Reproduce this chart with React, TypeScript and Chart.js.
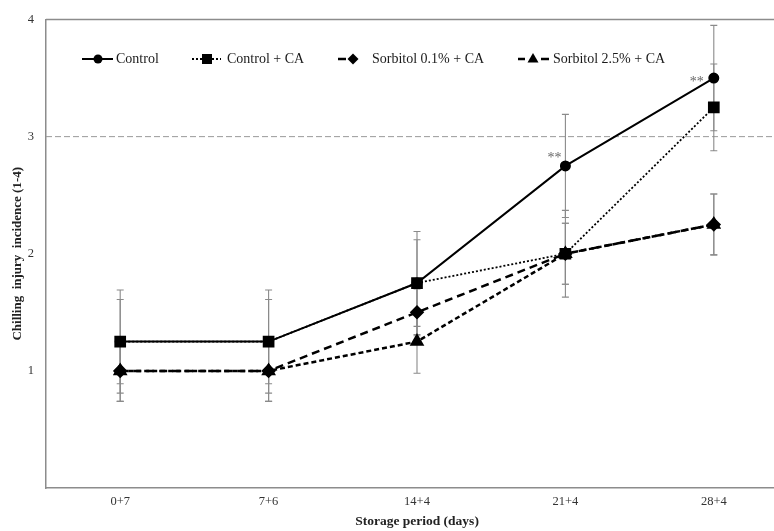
import React, { useEffect, useRef } from 'react';
import { Chart, registerables } from 'chart.js';

Chart.register(...registerables);

// ---- data ----
const categories = ['0+7', '7+6', '14+4', '21+4', '28+4'];
const seriesNames = ['Control', 'Control + CA', 'Sorbitol 0.1% + CA', 'Sorbitol 2.5% + CA'];
const control = [1.25, 1.25, 1.75, 2.75, 3.5];
const controlCA = [1.25, 1.25, 1.75, 2.0, 3.25];
const sorbitol01 = [1.0, 1.0, 1.5, 2.0, 2.25];
const sorbitol25 = [1.0, 1.0, 1.25, 2.0, 2.25];
const controlErr = [0.44, 0.44, 0.44, 0.44, 0.45];
const controlCAErr = [0.36, 0.36, 0.37, 0.37, 0.37];
const sorbitol01Err = [0.26, 0.26, 0.2, 0.26, 0.26];
const sorbitol25Err = [0.26, 0.26, 0.27, 0.26, 0.26];
const yTicks = [1, 2, 3, 4];
const thresholdValue = 3;
const significance = [
  { series: 0, index: 3, label: '**' },
  { series: 0, index: 4, label: '**' },
];

const FONT = '"Liberation Serif", "Times New Roman", serif';
const errors = [controlErr, controlCAErr, sorbitol01Err, sorbitol25Err];

// style for the legend (drawn manually to show line + marker)
const legendStyle = [
  { segs: [[82, 113]], dash: [] as number[], width: 2, marker: 'circle', mx: 98, tx: 116 },
  { segs: [[192, 221]], dash: [2, 2], width: 1.8, marker: 'rect', mx: 207, tx: 227 },
  { segs: [[338, 346]], dash: [] as number[], width: 2.5, marker: 'rectRot', mx: 353, tx: 372 },
  { segs: [[518, 525], [541, 549]], dash: [] as number[], width: 2.5, marker: 'triangle', mx: 533, tx: 553 },
];
const legendY = 59;
const sigOffsets = [
  { dx: -11, dy: -8 },
  { dx: -17, dy: 4 },
];

function drawMarker(ctx: CanvasRenderingContext2D, kind: string, x: number, y: number) {
  ctx.beginPath();
  if (kind === 'circle') {
    ctx.arc(x, y, 4.5, 0, Math.PI * 2);
  } else if (kind === 'rect') {
    ctx.rect(x - 5, y - 5, 10, 10);
  } else if (kind === 'rectRot') {
    ctx.moveTo(x, y - 5.5);
    ctx.lineTo(x + 5.5, y);
    ctx.lineTo(x, y + 5.5);
    ctx.lineTo(x - 5.5, y);
    ctx.closePath();
  } else {
    ctx.moveTo(x, y - 6);
    ctx.lineTo(x + 5.5, y + 3.5);
    ctx.lineTo(x - 5.5, y + 3.5);
    ctx.closePath();
  }
  ctx.fillStyle = '#000';
  ctx.fill();
}

const decorPlugin = {
  id: 'decor',
  beforeDatasetsDraw(chart: any) {
    const ctx: CanvasRenderingContext2D = chart.ctx;
    const { left, right, top } = chart.chartArea;
    const ys = chart.scales.y;
    ctx.save();
    // top frame line
    ctx.strokeStyle = '#8c8c8c';
    ctx.lineWidth = 1.5;
    ctx.beginPath();
    ctx.moveTo(left, top);
    ctx.lineTo(right, top);
    ctx.stroke();
    // threshold dashed line
    const ty = ys.getPixelForValue(thresholdValue);
    ctx.strokeStyle = '#9a9a9a';
    ctx.lineWidth = 1;
    ctx.setLineDash([6, 3]);
    ctx.beginPath();
    ctx.moveTo(left, ty);
    ctx.lineTo(right, ty);
    ctx.stroke();
    ctx.setLineDash([]);
    // error bars
    ctx.strokeStyle = '#8a8a8a';
    ctx.lineWidth = 1.1;
    chart.data.datasets.forEach((ds: any, i: number) => {
      const meta = chart.getDatasetMeta(i);
      ds.data.forEach((v: number, j: number) => {
        const e = errors[i][j];
        const x = meta.data[j].x;
        const y1 = ys.getPixelForValue(v + e);
        const y2 = ys.getPixelForValue(v - e);
        ctx.beginPath();
        ctx.moveTo(x, y1);
        ctx.lineTo(x, y2);
        ctx.moveTo(x - 3.5, y1);
        ctx.lineTo(x + 3.5, y1);
        ctx.moveTo(x - 3.5, y2);
        ctx.lineTo(x + 3.5, y2);
        ctx.stroke();
      });
    });
    ctx.restore();
  },
  afterDraw(chart: any) {
    const ctx: CanvasRenderingContext2D = chart.ctx;
    ctx.save();
    // significance marks
    ctx.fillStyle = '#666';
    ctx.font = `14px ${FONT}`;
    ctx.textAlign = 'center';
    ctx.textBaseline = 'middle';
    significance.forEach((s, k) => {
      const pt = chart.getDatasetMeta(s.series).data[s.index];
      ctx.fillText(s.label, pt.x + sigOffsets[k].dx, pt.y + sigOffsets[k].dy);
    });
    // legend
    ctx.strokeStyle = '#000';
    ctx.lineCap = 'butt';
    legendStyle.forEach((st, i) => {
      ctx.lineWidth = st.width;
      ctx.setLineDash(st.dash);
      st.segs.forEach(([a, b]) => {
        ctx.beginPath();
        ctx.moveTo(a, legendY);
        ctx.lineTo(b, legendY);
        ctx.stroke();
      });
      ctx.setLineDash([]);
      drawMarker(ctx, st.marker, st.mx, legendY);
      ctx.fillStyle = '#1a1a1a';
      ctx.font = `14px ${FONT}`;
      ctx.textAlign = 'left';
      ctx.textBaseline = 'middle';
      ctx.fillText(seriesNames[i], st.tx, legendY);
    });
    ctx.restore();
  },
};

export default function App() {
  const ref = useRef<HTMLCanvasElement>(null);
  useEffect(() => {
    const chart = new Chart(ref.current as HTMLCanvasElement, {
      type: 'line',
      data: {
        labels: categories,
        datasets: [
          {
            label: seriesNames[0],
            data: control,
            borderColor: '#000',
            backgroundColor: '#000',
            borderWidth: 2,
            pointStyle: 'circle',
            pointRadius: 4.5,
            order: 3,
          },
          {
            label: seriesNames[1],
            data: controlCA,
            borderColor: '#000',
            backgroundColor: '#000',
            borderWidth: 1.8,
            borderDash: [2, 2],
            pointStyle: 'rect',
            pointRadius: 7,
            order: 0,
          },
          {
            label: seriesNames[2],
            data: sorbitol01,
            borderColor: '#000',
            backgroundColor: '#000',
            borderWidth: 2.5,
            borderDash: [8, 5],
            pointStyle: 'rectRot',
            pointRadius: 5.5,
            order: 2,
          },
          {
            label: seriesNames[3],
            data: sorbitol25,
            borderColor: '#000',
            backgroundColor: '#000',
            borderWidth: 2.5,
            borderDash: [5, 3],
            pointStyle: 'triangle',
            pointRadius: 6,
            order: 1,
          },
        ],
      } as any,
      options: {
        animation: false,
        responsive: false,
        devicePixelRatio: 1,
        layout: { padding: { left: 0, top: 18, right: 14, bottom: 0 } },
        elements: {
          line: { tension: 0, fill: false },
          point: { borderWidth: 0, hoverRadius: 5 },
        },
        plugins: {
          legend: { display: false },
          tooltip: { enabled: false },
          title: { display: false },
        },
        scales: {
          x: {
            type: 'category',
            offset: true,
            grid: { display: false, drawTicks: false },
            border: { display: true, color: '#8c8c8c', width: 1.5 },
            ticks: { color: '#333', font: { family: FONT, size: 12.5 }, padding: 6 },
            title: {
              display: true,
              text: 'Storage period (days)',
              color: '#222',
              font: { family: FONT, size: 13.5, weight: 'bold' },
              padding: { top: 2, bottom: 1 },
            },
            afterFit: (s: any) => {
              s.height = 43;
            },
          },
          y: {
            type: 'linear',
            min: 0,
            max: 4,
            grid: { display: false, drawTicks: false },
            border: { display: true, color: '#8c8c8c', width: 1.5 },
            ticks: { color: '#333', font: { family: FONT, size: 12.5 }, padding: 12 },
            afterBuildTicks: (s: any) => {
              s.ticks = yTicks.map((v) => ({ value: v }));
            },
            title: {
              display: true,
              text: 'Chilling  injury  incidence (1-4)',
              color: '#222',
              font: { family: FONT, size: 13, weight: 'bold' },
              padding: { top: 10, bottom: 0 },
            },
            afterFit: (s: any) => {
              s.width = 46;
            },
          },
        },
      } as any,
      plugins: [decorPlugin],
    });
    return () => chart.destroy();
  }, []);
  return (
    <div
      style={{
        position: 'fixed',
        left: 0,
        top: 0,
        width: 774,
        height: 531,
        overflow: 'hidden',
        background: '#fff',
      }}
    >
      <canvas ref={ref} width={802} height={531} style={{ display: 'block', width: 802, height: 531 }} />
    </div>
  );
}
